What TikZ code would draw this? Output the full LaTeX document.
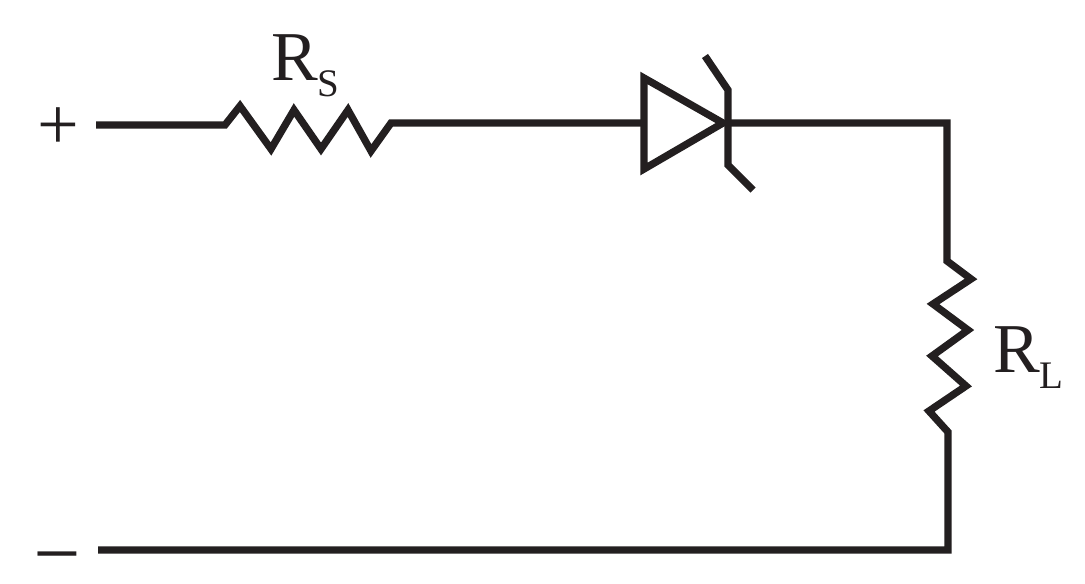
\documentclass[tikz,border=0pt]{standalone}
\usepackage{fontspec}
\setmainfont{Liberation Serif}
\newcommand{\lab}[2]{{\fontsize{70}{72}\selectfont #1\raisebox{-16.5pt}{\fontsize{39}{40}\selectfont #2}}}
\definecolor{ink}{HTML}{231F20}

\begin{document}
\begin{tikzpicture}[x=1pt, y=-1pt, wire/.style={draw=ink, line width=7.3pt, line join=miter, miter limit=10}, txt/.style={text=ink, inner sep=0pt, outer sep=0pt}]
	\useasboundingbox (0,0) rectangle (1085,584);
	\fill[white] (0,0) rectangle (1085,584);

	\coordinate (a1) at (96,125);
	\coordinate (a2) at (225,125);
	\coordinate (a3) at (391,123);
	\coordinate (k) at (728,123);
	\coordinate (b1) at (947,123);
	\coordinate (b2) at (947,261);
	\coordinate (b3) at (948,432);
	\coordinate (c1) at (948,550);
	\coordinate (c2) at (98,550);

	\node[txt, anchor=base west] (rs) at (271,80) {\lab{R}{S}};
	\node[txt, anchor=base west] (rl) at (993,372) {\lab{R}{L}};
	\node[txt] (plus) at (58,129) {\fontsize{74}{74}\selectfont +};
	\node[txt, anchor=base] (minus) at (57,568) {\scalebox{1.22}[1]{\fontsize{62}{62}\selectfont\bfseries –}};

	% source resistor
	\draw[wire] (a1) -- (a2) -- (240,106) -- (271,149) -- (294,110) -- (321,149) -- (348,110) -- (371,151) -- (a3) -- (643,123);

	% diode
	\draw[wire] (644,78) -- (644,169) -- (723,123) -- cycle;
	\draw[wire] (705,56) -- (728,90) -- (728,165) -- (753,190);

	% load resistor and return
	\draw[wire] (k) -- (b1) -- (b2) -- (971,279) -- (933,304) -- (968,330) -- (932,356) -- (966,386) -- (929,411) -- (b3) -- (c1) -- (c2);
\end{tikzpicture}
\end{document}
